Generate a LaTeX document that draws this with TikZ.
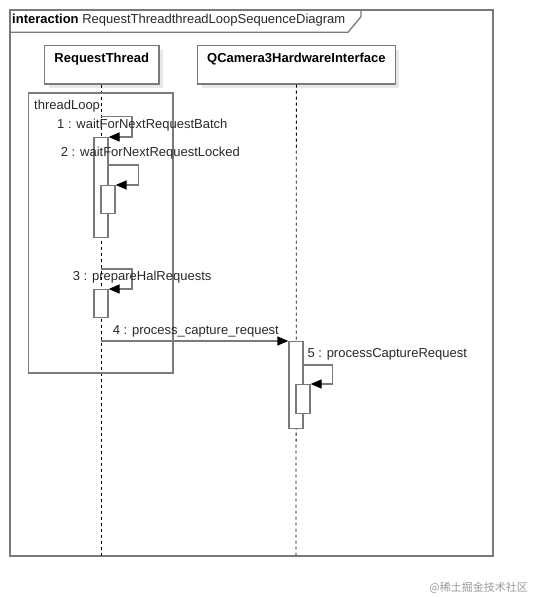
\documentclass[tikz,border=0pt]{standalone}
\usepackage{fontspec}
\setmainfont{Liberation Sans}
\newfontfamily\cjk{Noto Sans CJK SC}
\usepackage{tikz}
\usetikzlibrary{arrows.meta,shadows}

\definecolor{linegray}{RGB}{122,122,122}
\definecolor{textgray}{RGB}{40,40,40}

\begin{document}
\begin{tikzpicture}[x=1pt,y=-1pt,
  life_box/.style={rectangle,draw=linegray,line width=1.3pt,fill=white,inner xsep=0pt,inner ysep=3pt,
    text height=13.4pt,text depth=18.9pt,anchor=north west,font=\fontsize{13}{15}\selectfont\bfseries,
    drop shadow={shadow xshift=4pt,shadow yshift=-4pt,fill=black!9,opacity=1}},
  act_bar/.style={rectangle,draw=linegray,line width=1.3pt,fill=white,inner sep=0pt,minimum width=14,anchor=north},
  life_line/.style={black,line width=0.8pt,dash pattern=on 3pt off 3pt},
  msg_line/.style={linegray,line width=1.3pt,-{Triangle[length=11pt,width=9pt,fill=black,color=black]}},
  msg_text/.style={anchor=west,inner sep=0pt,text=textgray,font=\fontsize{13}{15}\selectfont}]

    \useasboundingbox (0,0) rectangle (533,597);

    % frame
    \draw[linegray,line width=1.5pt] (10,10) rectangle (493,556);
    \draw[linegray,line width=1.3pt] (10,32.3) -- (348,32.3) -- (361,16.7) -- (361,10);
    \node[msg_text] (title) at (12,20.5) {\textbf{\color{black}interaction} RequestThreadthreadLoopSequenceDiagram};

    \node[life_box,minimum width=114.3] (rt_box) at (44,45) {RequestThread};
    \node[life_box,minimum width=197.5] (qc_box) at (197,45) {QCamera3HardwareInterface};
    \coordinate (rt_end) at (rt_box.south |- 0,556);
    \coordinate (qc_end) at (296,556);
    \draw[life_line] (rt_box.south) -- (rt_end);
    \draw[life_line] (qc_box.south) -- (qc_end);

    % threadLoop
    \draw[linegray,line width=1.3pt] (28.7,93) rectangle (173,373);
    \node[msg_text] (loop_text) at (34,106) {threadLoop};

    \node[act_bar,minimum height=100] (bar1) at (101,137) {};
    \node[act_bar,minimum height=28] (bar2) at (108,185) {};
    \node[act_bar,minimum height=28] (bar3) at (101,289) {};
    \node[act_bar,minimum height=87] (bar4) at (296,341) {};
    \node[act_bar,minimum height=29] (bar5) at (303,384) {};

    \coordinate (m1) at (101,116.7);
    \coordinate (m2) at (bar1.east |- 0,165);
    \coordinate (m3) at (101,269);
    \coordinate (m4) at (101,341);
    \coordinate (m5) at (bar4.east |- 0,365);

    \draw[msg_line] (m1) -- ++(31,0) |- (bar1.north east);
    \draw[msg_line] (m2) -- ++(30,0) |- (bar2.north east);
    \draw[msg_line] (m3) -- ++(31,0) |- (bar3.north east);
    \draw[msg_line] (m4) -- (bar4.north west);
    \draw[msg_line] (m5) -- ++(29,0) |- (bar5.north east);

    \node[msg_text] (t1) at (57,125) {1 : waitForNextRequestBatch};
    \node[msg_text] (t2) at (60.7,153.5) {2 : waitForNextRequestLocked};
    \node[msg_text] (t3) at (72.7,276.7) {3 : prepareHalRequests};
    \node[msg_text] (t4) at (112.7,331) {4 : process\_capture\_request};
    \node[msg_text] (t5) at (307.3,354.3) {5 : processCaptureRequest};

    \node[anchor=east,inner sep=0pt,text=black!40,font=\cjk\fontsize{11}{11}\selectfont] (mark) at (528,588) {@稀土掘金技术社区};

\end{tikzpicture}
\end{document}
